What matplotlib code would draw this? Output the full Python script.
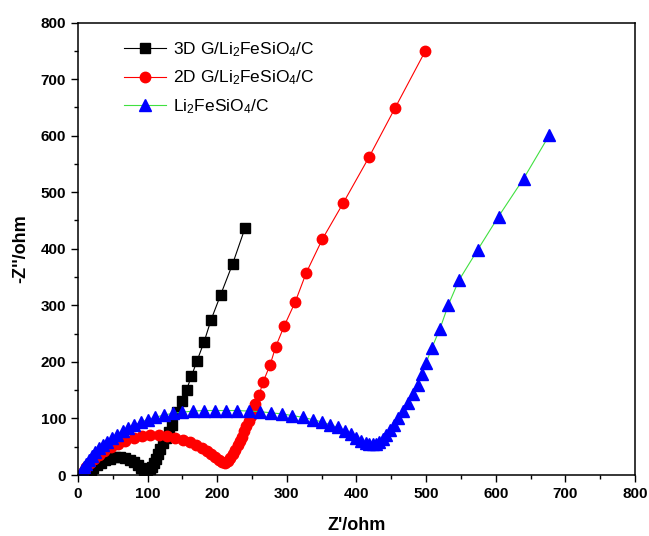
import numpy as np
import matplotlib
matplotlib.use('Agg')
import matplotlib.pyplot as plt
from matplotlib.ticker import MultipleLocator

plt.rcParams['font.family'] = ['Liberation Sans', 'DejaVu Sans']
plt.rcParams['mathtext.default'] = 'regular'

#3D G/Li2FeSiO4/C (black squares)
x_3d = [14, 18, 22, 27, 33, 39, 46, 53, 60, 67, 74, 80, 86, 91, 95, 99, 103, 106, 109, 112,
        115, 118, 122, 126, 130, 135, 142, 150, 156, 163, 171, 181, 191, 205, 222, 240]
y_3d = [1, 7, 12, 17, 22, 26, 29, 31, 31, 30, 27, 23, 18, 13, 9, 8, 10, 15, 21, 29,
        37, 46, 56, 66, 76, 88, 111, 131, 151, 175, 202, 235, 274, 319, 373, 437]

#2D G/Li2FeSiO4/C (red circles)
x_2d = [5, 8, 12, 17, 23, 30, 38, 47, 57, 68, 80, 92, 104, 116, 128, 140, 151, 161, 170, 178,
        185, 191, 197, 202, 207, 211, 215, 218, 222, 226, 230, 233, 236, 239, 242, 245,
        248, 251, 254, 260, 266, 276, 284, 296, 312, 328, 351, 381, 418, 455, 499]
y_2d = [0, 7, 14, 21, 28, 35, 42, 49, 55, 61, 66, 69, 71, 71, 69, 66, 62, 58, 53, 48,
        43, 37, 31, 26, 23, 22, 25, 30, 37, 45, 53, 60, 68, 77, 86, 95,
        105, 115, 125, 141, 165, 195, 227, 263, 306, 358, 417, 481, 562, 648, 750]

#Li2FeSiO4/C (blue triangles)
x_bare = [3, 6, 9, 12, 16, 20, 25, 30, 36, 42, 49, 56, 64, 72, 81, 90, 100, 111, 123, 136,
          150, 165, 181, 197, 213, 229, 245, 261, 277, 293, 308, 323, 337, 350, 362, 373,
          383, 392, 400, 407, 413, 418, 423, 428, 433, 438, 443, 448, 454, 460, 467, 474,
          481, 488, 494, 500, 508, 520, 532, 547, 574, 604, 640, 677]
y_bare = [2, 8, 14, 20, 27, 33, 40, 47, 53, 59, 65, 71, 77, 83, 88, 93, 98, 102, 106, 109,
          111, 113, 114, 114, 114, 114, 113, 112, 110, 108, 105, 102, 98, 94, 89, 84,
          78, 72, 66, 61, 57, 55, 54, 55, 58, 63, 70, 79, 89, 100, 113, 127,
          143, 160, 178, 198, 224, 259, 301, 344, 398, 457, 524, 601]

fig = plt.figure(figsize=(6.49, 5.36), dpi=100)
ax = fig.add_axes([0.1202, 0.1138, 0.8582, 0.8442])

ax.plot(x_3d, y_3d, color='black', linewidth=0.8, marker='s', markersize=7,
        markerfacecolor='black', markeredgecolor='black', label='3D G/Li$_2$FeSiO$_4$/C')
ax.plot(x_2d, y_2d, color='red', linewidth=0.8, marker='o', markersize=7.5,
        markerfacecolor='red', markeredgecolor='red', label='2D G/Li$_2$FeSiO$_4$/C')
ax.plot(x_bare, y_bare, color='#40e040', linewidth=0.8, marker='^', markersize=8,
        markerfacecolor='blue', markeredgecolor='blue', label='Li$_2$FeSiO$_4$/C')

ax.set_xlim(0, 800)
ax.set_ylim(0, 800)
ax.xaxis.set_major_locator(MultipleLocator(100))
ax.xaxis.set_minor_locator(MultipleLocator(50))
ax.yaxis.set_major_locator(MultipleLocator(100))
ax.yaxis.set_minor_locator(MultipleLocator(50))
ax.tick_params(which='major', direction='out', length=5, width=1, labelsize=11)
ax.tick_params(which='minor', direction='out', length=3, width=1)
for lab in ax.get_xticklabels() + ax.get_yticklabels():
    lab.set_fontweight('bold')
for s in ax.spines.values():
    s.set_linewidth(1.1)

ax.set_xlabel("Z'/ohm", fontsize=13, fontweight='bold', labelpad=12)
ax.set_ylabel("-Z''/ohm", fontsize=13, fontweight='bold', labelpad=8)

ax.legend(loc='upper left', bbox_to_anchor=(0.055, 0.995), frameon=False, fontsize=12.5,
          numpoints=1, handlelength=2.4, labelspacing=0.55, handletextpad=0.4)

fig.savefig('out.png', dpi=100)
